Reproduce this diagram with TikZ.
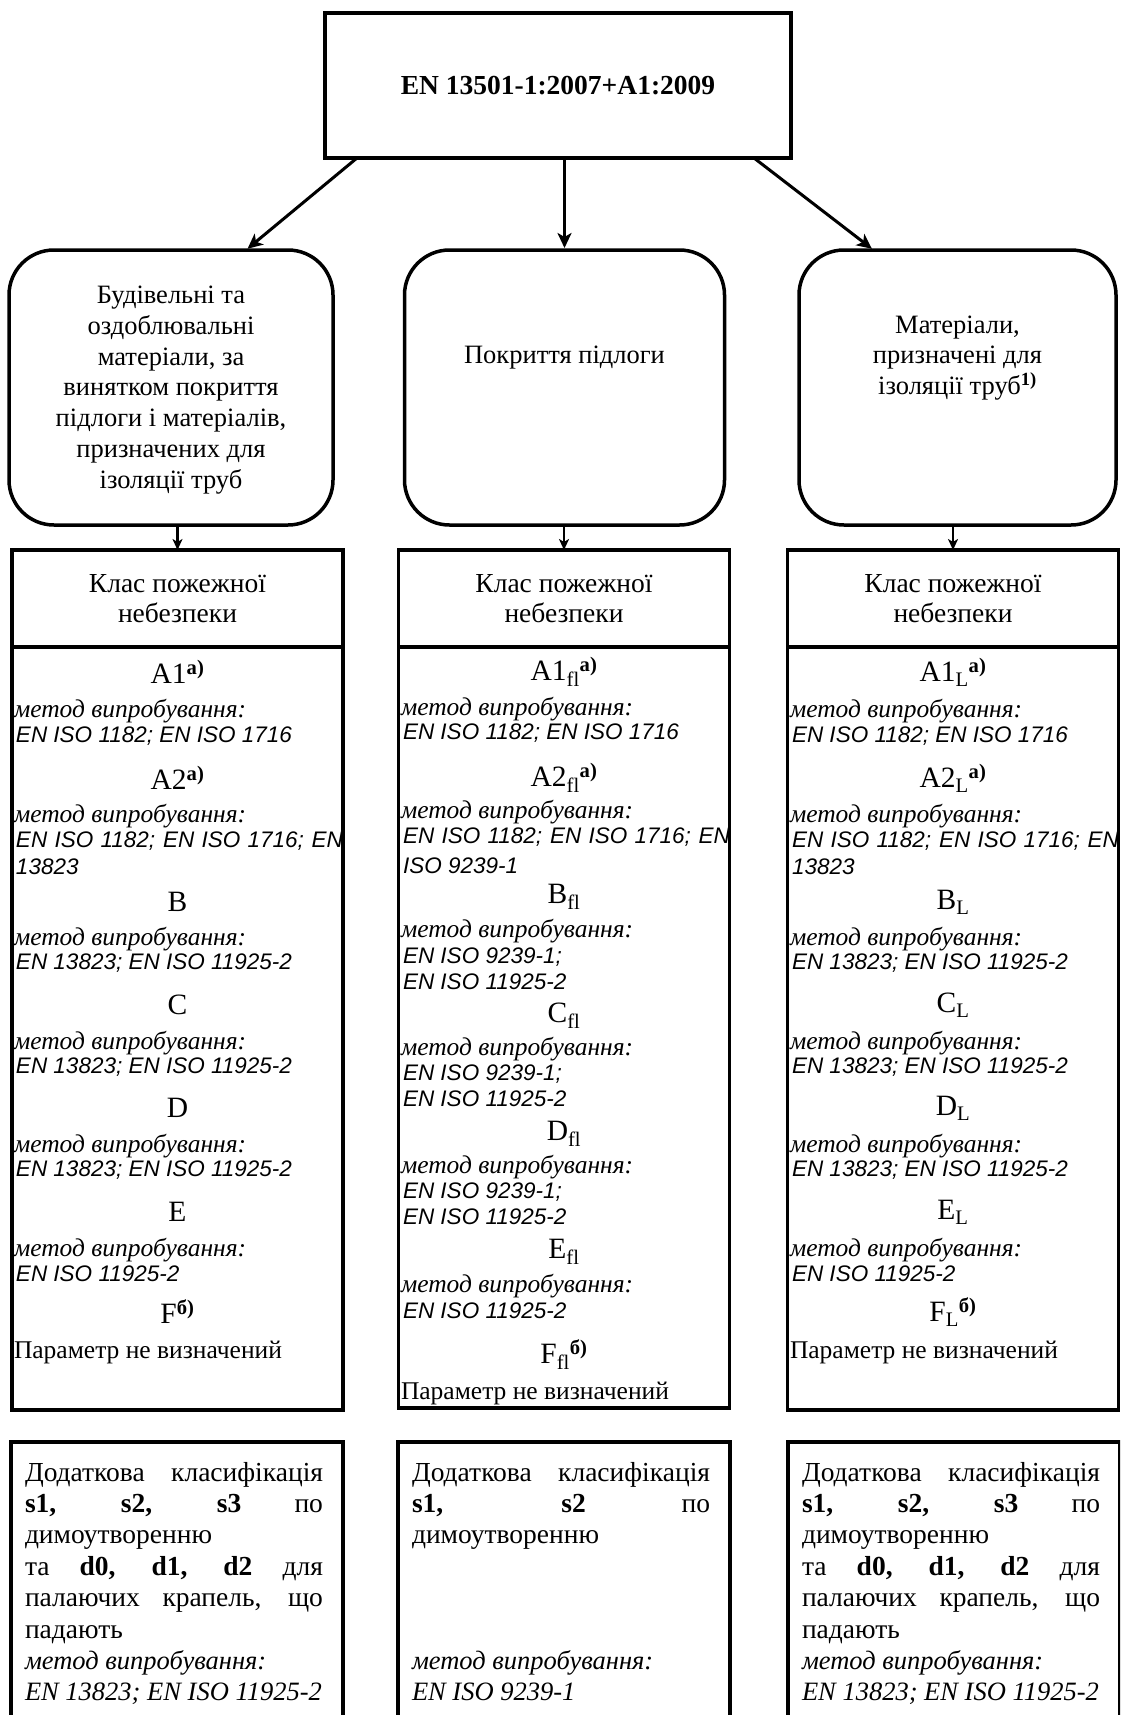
\documentclass[tikz,border=0pt]{standalone}
\usepackage{fontspec}
\setmainfont{Liberation Serif}
\newfontfamily\arialfont{Liberation Sans}
\usepackage{tikz}
\usetikzlibrary{positioning,arrows.meta}
\setlength{\parindent}{0pt}

\newcommand{\szmain}{\fontsize{27.5}{29.5}\selectfont}
\newcommand{\szrnd}{\fontsize{26.5}{30.8}\selectfont}
\newcommand{\szcls}{\fontsize{29.5}{31}\selectfont}
\newcommand{\szmet}{\fontsize{25.5}{27}\selectfont\itshape}
\newcommand{\szen}{\fontsize{22.5}{25}\selectfont\arialfont\itshape}
\newcommand{\szprm}{\fontsize{25.5}{28}\selectfont}
\newcommand{\szdod}{\fontsize{27.5}{31.4}\selectfont}
\newcommand{\szdodit}{\fontsize{26.5}{31.4}\selectfont\itshape}
\newcommand{\supb}[1]{\textsuperscript{\textbf{#1}}}
\newcommand{\metod}{метод випробування:}

\begin{document}
\begin{tikzpicture}[
                    x=1pt, y=-1pt,
                    line width=3.5pt,
                    every node/.style={inner sep=0pt, outer sep=0pt},
                    topbox/.style={draw, minimum width=466pt, minimum height=145pt, font=\szmain\bfseries},
                    rbox/.style={draw, rounded corners=45pt, minimum width=320pt, minimum height=275pt},
                    rtext/.style={align=center, font=\szrnd},
                    hdr/.style={draw, minimum width=331pt, minimum height=97pt, align=center, font=\szmain},
                    body/.style={draw, minimum width=331pt, minimum height=763pt},
                    cls/.style={font=\szcls},
                    met/.style={anchor=west, font=\szmet},
                    std/.style={anchor=west, font=\szen},
                    prm/.style={anchor=west, font=\szprm},
                    dbox/.style={draw, anchor=north, minimum width=332pt, minimum height=330pt},
                    dtext/.style={anchor=north west, align=left, font=\szdod},
                    arr/.style={-{Stealth[length=15pt, width=14pt, inset=4pt]}, line width=3pt, shorten >=2pt},
                    sarr/.style={-{Stealth[length=11pt, width=10pt, inset=3pt]}, line width=2.5pt}
                ]
                    \useasboundingbox (0,0) rectangle (1120,1715);
                    \clip (0,0) rectangle (1120,1715);

                    \node[topbox] (norm) at (558,85.5) {EN 13501-1:2007+A1:2009};

                    \node[rbox, minimum width=324pt] (bud) at (171,387.5) {};
                    \node[rtext] (budtxt) at (171,390) {Будівельні та\\оздоблювальні\\матеріали, за\\винятком покриття\\підлоги і матеріалів,\\призначених для\\ізоляції труб};
                    \node[rbox] (pokr) at (564.5,387.5) {};
                    \node[rtext] (pokrtxt) at (564.5,358) {Покриття підлоги};
                    \node[rbox, minimum width=317pt] (izol) at (957.5,387.5) {};
                    \node[rtext] (izoltxt) at (957.5,358) {Матеріали,\\призначені для\\ізоляції труб\supb{1)}};

                    \node[hdr] (kl1) at (177.5,598.5) {Клас пожежної\\небезпеки};
                    \node[hdr] (kl2) at (564,598.5) {Клас пожежної\\небезпеки};
                    \node[hdr] (kl3) at (953,598.5) {Клас пожежної\\небезпеки};
                    \node[body, below=0pt of kl1] (cls1) {};
                    \node[body, below=0pt of kl2, minimum height=761pt] (cls2) {};
                    \node[body, below=0pt of kl3] (cls3) {};

                    % Edges
                    \draw[arr] ([xshift=-201pt]norm.south) -- ([xshift=75pt]bud.north);
                    \draw[arr] (norm.south -| pokr.north) -- (pokr.north);
                    \draw[arr] ([xshift=196pt]norm.south) -- ([xshift=-84pt]izol.north);
                    \draw[sarr] (bud.south -| kl1.north) -- (kl1.north);
                    \draw[sarr] (pokr.south -| kl2.north) -- (kl2.north);
                    \draw[sarr] (izol.south -| kl3.north) -- (kl3.north);

                    % building materials
                    \begin{scope}
                        \clip ([xshift=1.75pt,yshift=-1.75pt]cls1.north west) rectangle ([xshift=-1.75pt,yshift=1.75pt]cls1.south east);
                        \node[cls] (lA1) at (177.5,672) {A1\supb{а)}};
                        \node[met] (lA1m) at (14,711) {\metod};
                        \node[std] (lA1e) at (16,736) {EN ISO 1182; EN ISO 1716};
                        \node[cls] (lA2) at (177.5,778) {A2\supb{а)}};
                        \node[met] (lA2m) at (14,816) {\metod};
                        \node[std] (lA2e) at (16,841) {\makebox[327pt][s]{EN ISO 1182; EN ISO 1716; EN}};
                        \node[std] (lA2f) at (16,867) {13823};
                        \node[cls] (lB) at (177.5,902) {B};
                        \node[met] (lBm) at (14,939) {\metod};
                        \node[std] (lBe) at (16,963) {EN 13823; EN ISO 11925-2};
                        \node[cls] (lC) at (177.5,1005) {C};
                        \node[met] (lCm) at (14,1043) {\metod};
                        \node[std] (lCe) at (16,1067) {EN 13823; EN ISO 11925-2};
                        \node[cls] (lD) at (177.5,1108) {D};
                        \node[met] (lDm) at (14,1146) {\metod};
                        \node[std] (lDe) at (16,1170) {EN 13823; EN ISO 11925-2};
                        \node[cls] (lE) at (177.5,1212) {E};
                        \node[met] (lEm) at (14,1250) {\metod};
                        \node[std] (lEe) at (16,1274) {EN ISO 11925-2};
                        \node[cls] (lF) at (177.5,1312) {F\supb{б)}};
                        \node[prm] (lFp) at (14,1352) {Параметр не визначений};
                    \end{scope}

                    % floorings
                    \begin{scope}
                        \clip ([xshift=1.75pt,yshift=-1.75pt]cls2.north west) rectangle ([xshift=-1.75pt,yshift=1.75pt]cls2.south east);
                        \node[cls] (mA1) at (564,672) {A1\textsubscript{fl}\supb{а)}};
                        \node[met] (mA1m) at (401,709) {\metod};
                        \node[std] (mA1e) at (403,733) {EN ISO 1182; EN ISO 1716};
                        \node[cls] (mA2) at (564,778) {A2\textsubscript{fl}\supb{а)}};
                        \node[met] (mA2m) at (401,812) {\metod};
                        \node[std] (mA2e) at (403,837) {\makebox[327pt][s]{EN ISO 1182; EN ISO 1716; EN}};
                        \node[std] (mA2f) at (403,866) {ISO 9239-1};
                        \node[cls] (mB) at (564,897) {B\textsubscript{fl}};
                        \node[met] (mBm) at (401,931) {\metod};
                        \node[std] (mBe) at (403,957) {EN ISO 9239-1;};
                        \node[std] (mBf) at (403,982) {EN ISO 11925-2};
                        \node[cls] (mC) at (564,1016) {C\textsubscript{fl}};
                        \node[met] (mCm) at (401,1049) {\metod};
                        \node[std] (mCe) at (403,1074) {EN ISO 9239-1;};
                        \node[std] (mCf) at (403,1099) {EN ISO 11925-2};
                        \node[cls] (mD) at (564,1134) {D\textsubscript{fl}};
                        \node[met] (mDm) at (401,1167) {\metod};
                        \node[std] (mDe) at (403,1192) {EN ISO 9239-1;};
                        \node[std] (mDf) at (403,1217) {EN ISO 11925-2};
                        \node[cls] (mE) at (564,1252) {E\textsubscript{fl}};
                        \node[met] (mEm) at (401,1286) {\metod};
                        \node[std] (mEe) at (403,1311) {EN ISO 11925-2};
                        \node[cls] (mF) at (564,1355) {F\textsubscript{fl}\supb{б)}};
                        \node[prm] (mFp) at (401,1393) {Параметр не визначений};
                    \end{scope}

                    % pipe insulation
                    \begin{scope}
                        \clip ([xshift=1.75pt,yshift=-1.75pt]cls3.north west) rectangle ([xshift=-1.75pt,yshift=1.75pt]cls3.south east);
                        \node[cls] (rA1) at (953,672) {A1\textsubscript{L}\supb{а)}};
                        \node[met] (rA1m) at (790,711) {\metod};
                        \node[std] (rA1e) at (792,736) {EN ISO 1182; EN ISO 1716};
                        \node[cls] (rA2) at (953,778) {A2\textsubscript{L}\supb{а)}};
                        \node[met] (rA2m) at (790,816) {\metod};
                        \node[std] (rA2e) at (792,841) {\makebox[327pt][s]{EN ISO 1182; EN ISO 1716; EN}};
                        \node[std] (rA2f) at (792,867) {13823};
                        \node[cls] (rB) at (953,902) {B\textsubscript{L}};
                        \node[met] (rBm) at (790,939) {\metod};
                        \node[std] (rBe) at (792,963) {EN 13823; EN ISO 11925-2};
                        \node[cls] (rC) at (953,1005) {C\textsubscript{L}};
                        \node[met] (rCm) at (790,1043) {\metod};
                        \node[std] (rCe) at (792,1067) {EN 13823; EN ISO 11925-2};
                        \node[cls] (rD) at (953,1108) {D\textsubscript{L}};
                        \node[met] (rDm) at (790,1146) {\metod};
                        \node[std] (rDe) at (792,1170) {EN 13823; EN ISO 11925-2};
                        \node[cls] (rE) at (953,1212) {E\textsubscript{L}};
                        \node[met] (rEm) at (790,1250) {\metod};
                        \node[std] (rEe) at (792,1274) {EN ISO 11925-2};
                        \node[cls] (rF) at (953,1312) {F\textsubscript{L}\supb{б)}};
                        \node[prm] (rFp) at (790,1352) {Параметр не визначений};
                    \end{scope}

                    % additional classes
                    \node[dbox] (dod1) at (177,1442) {};
                    \node[dbox] (dod2) at (564,1442) {};
                    \node[dbox] (dod3) at (954,1442) {};
                    \node[dtext] (dodtxt1) at (25,1462) {\makebox[298pt][s]{Додаткова класифікація}\\
                        \makebox[298pt][s]{\textbf{s1,} \textbf{s2,} \textbf{s3} по}\\
                        димоутворенню\\
                        \makebox[298pt][s]{та \textbf{d0,} \textbf{d1,} \textbf{d2} для}\\
                        \makebox[298pt][s]{палаючих крапель, що}\\
                        падають\\
                        {\szdodit метод випробування:}\\
                        {\szdodit EN 13823; EN ISO 11925-2}};
                    \node[dtext] (dodtxt2) at (412,1462) {\makebox[298pt][s]{Додаткова класифікація}\\
                        \makebox[298pt][s]{\textbf{s1,} \textbf{s2} по}\\
                        димоутворенню\\[94pt]
                        {\szdodit метод випробування:}\\
                        {\szdodit EN ISO 9239-1}};
                    \node[dtext] (dodtxt3) at (802,1462) {\makebox[298pt][s]{Додаткова класифікація}\\
                        \makebox[298pt][s]{\textbf{s1,} \textbf{s2,} \textbf{s3} по}\\
                        димоутворенню\\
                        \makebox[298pt][s]{та \textbf{d0,} \textbf{d1,} \textbf{d2} для}\\
                        \makebox[298pt][s]{палаючих крапель, що}\\
                        падають\\
                        {\szdodit метод випробування:}\\
                        {\szdodit EN 13823; EN ISO 11925-2}};
                \end{tikzpicture}
\end{document}
